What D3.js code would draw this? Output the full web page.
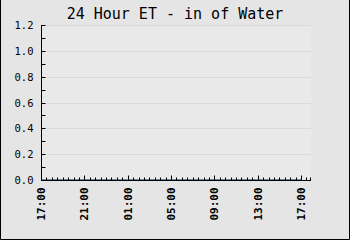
<!doctype html>
<html>
<head>
<meta charset="utf-8">
<style>
  html, body { margin: 0; padding: 0; background: #e5e5e5; }
  svg { display: block; }
</style>
</head>
<body>
<svg width="350" height="240"></svg>
<script src="https://d3js.org/d3.v7.min.js"></script>
<script>
  // hourly ET readings (inches of water), 17:00 -> 18:00 next day
  const hours = ["17:00","18:00","19:00","20:00","21:00","22:00","23:00","00:00",
    "01:00","02:00","03:00","04:00","05:00","06:00","07:00","08:00","09:00",
    "10:00","11:00","12:00","13:00","14:00","15:00","16:00","17:00","18:00"];
  const etValues = [0,0,0,0,0,0,0,0,0,0,0,0,0,0,0,0,0,0,0,0,0,0,0,0,0,0];
  const yTicks = [0.0, 0.2, 0.4, 0.6, 0.8, 1.0, 1.2];
  const xTickLabels = ["17:00","21:00","01:00","05:00","09:00","13:00","17:00"];
  const title = "24 Hour ET - in of Water";

  let svg = d3.select("svg"),
    width = +svg.attr("width"),
    height = +svg.attr("height");

  const start = new Date(2024, 0, 1, 17, 0);
  const end = new Date(2024, 0, 2, 17, 55);
  const hourMs = 3600 * 1000;

  const data = hours.map((h, i) => ({ t: new Date(start.getTime() + i * hourMs), v: etValues[i] }));

  const plotL = 41, plotR = 311, plotT = 25, plotB = 180;

  let x = d3.scaleTime().domain([start, end]).range([plotL, plotR]);
  let y = d3.scaleLinear().domain([0, 1.2]).range([plotB, plotT]);

  const mono = "'DejaVu Sans Mono', monospace";

  // plot background
  svg.append("rect")
    .attr("x", plotL).attr("y", plotT)
    .attr("width", plotR - plotL).attr("height", plotB - plotT)
    .attr("fill", "#e9e9e9");

  // grid
  svg.append("g").selectAll("line")
    .data(yTicks.slice(1))
    .enter().append("line")
    .attr("x1", plotL).attr("x2", plotR)
    .attr("y1", d => Math.round(y(d)) + 0.5).attr("y2", d => Math.round(y(d)) + 0.5)
    .attr("stroke", "#dadada");

  // data line
  svg.append("path")
    .datum(data.filter(d => d.t <= end))
    .attr("fill", "none")
    .attr("stroke", "#6f8ca6")
    .attr("stroke-width", 1)
    .attr("transform", "translate(0,-1)")
    .attr("d", d3.line().x(d => x(d.t)).y(d => Math.round(y(d.v)) + 0.5));

  // y axis
  let yAxis = svg.append("g").attr("transform", "translate(" + (plotL + 0.5) + ",0)");
  yAxis.append("line").attr("y1", plotT).attr("y2", plotB + 1).attr("stroke", "#000");
  yAxis.selectAll(".tk")
    .data(d3.range(0, 13).map(i => i / 10))
    .enter().append("line")
    .attr("x1", 0).attr("x2", 4)
    .attr("y1", d => Math.round(y(d)) + 0.5).attr("y2", d => Math.round(y(d)) + 0.5)
    .attr("stroke", "#000");
  yAxis.selectAll("text")
    .data(yTicks)
    .enter().append("text")
    .attr("x", -8).attr("y", d => y(d) + 4)
    .attr("text-anchor", "end")
    .attr("font-family", mono).attr("font-size", 10.5)
    .attr("fill", "#000")
    .text(d => d3.format(".1f")(d));

  // x axis
  let xAxis = svg.append("g").attr("transform", "translate(0," + (plotB + 0.5) + ")");
  xAxis.append("line").attr("x1", plotL).attr("x2", plotR).attr("stroke", "#000");
  const minor = d3.timeMinute.every(30).range(start, end);
  xAxis.selectAll(".mn")
    .data(minor)
    .enter().append("line")
    .attr("x1", d => Math.round(x(d)) + 0.5).attr("x2", d => Math.round(x(d)) + 0.5)
    .attr("y1", 0).attr("y2", (d, i) => i % 8 === 0 ? -5 : -3)
    .attr("stroke", "#000");
  xAxis.append("line")
    .attr("x1", plotR - 0.5).attr("x2", plotR - 0.5).attr("y1", 0).attr("y2", -3)
    .attr("stroke", "#000");
  xAxis.selectAll("text")
    .data(xTickLabels)
    .enter().append("text")
    .attr("transform", (d, i) => "translate(" + (x(new Date(start.getTime() + i * 4 * hourMs)) + 4) + ",40) rotate(-90)")
    .attr("font-family", mono).attr("font-size", 11).attr("font-weight", "bold")
    .attr("fill", "#000")
    .text(d => d);

  // title
  svg.append("text")
    .attr("x", 175).attr("y", 19)
    .attr("text-anchor", "middle")
    .attr("font-family", mono).attr("font-size", 15)
    .attr("fill", "#000")
    .text(title);

  // frame
  svg.append("path")
    .attr("d", "M0.5,0V239.5H349.5V0")
    .attr("fill", "none").attr("stroke", "#000");
</script>
</body>
</html>
